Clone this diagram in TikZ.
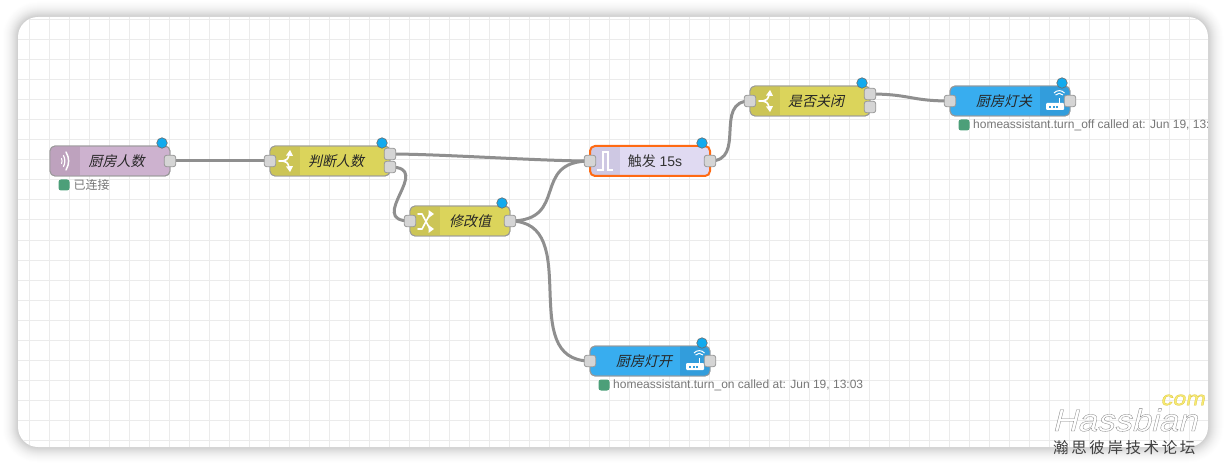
\documentclass[tikz,border=0pt]{standalone}
\usepackage{fontspec}
\setmainfont{Liberation Sans}
\newfontfamily\cjk{Noto Sans CJK SC}
\newfontfamily\cjkit[FakeSlant=0.22]{Noto Sans CJK SC}
\newfontfamily\markfont[FakeSlant=0.25,FakeStretch=1.12,FakeBold=1.0]{Liberation Sans}
\newfontfamily\markfontb[FakeSlant=0.2,FakeStretch=1.2,FakeBold=1.2]{Liberation Sans}
\usetikzlibrary{calc}
\definecolor{gridline}{HTML}{EBEBEB}
\definecolor{wirecol}{HTML}{8F8F8F}
\definecolor{portfill}{HTML}{D5D5D5}
\definecolor{edgecol}{HTML}{999999}
\definecolor{dotblue}{HTML}{11AAEE}
\definecolor{statusgreen}{HTML}{4C9F79}
\definecolor{statustext}{HTML}{777777}
\definecolor{injectbody}{HTML}{CDB2CF}
\definecolor{injecticon}{HTML}{BEA2BE}
\definecolor{switchbody}{HTML}{DBD45B}
\definecolor{switchicon}{HTML}{CCC556}
\definecolor{triggerbody}{HTML}{E0DAF2}
\definecolor{triggericon}{HTML}{CEC8E3}
\definecolor{servicebody}{HTML}{38ADEF}
\definecolor{serviceicon}{HTML}{329DDC}
\definecolor{selectcol}{HTML}{FF6A13}
\tikzset{
  gridrule/.style={draw=gridline,line width=1pt},
  wire/.style={draw=wirecol,line width=3pt},
  port/.style={draw=edgecol,fill=portfill,line width=.8pt,rectangle,rounded corners=2.5pt,
    minimum width=11.5pt,minimum height=11.5pt,inner sep=0pt,outer sep=0pt},
  changed/.style={circle,draw=edgecol!70!black,fill=dotblue,line width=.6pt,
    minimum size=10.5pt,inner sep=0pt},
  statusdot/.style={rectangle,rounded corners=2.5pt,fill=statusgreen,
    minimum width=11pt,minimum height=11pt,inner sep=0pt},
  statuslabel/.style={anchor=west,inner sep=0pt,text=statustext,font=\fontsize{12}{12}\selectfont},
  nodetitle/.style={inner sep=0pt,text=black!85,font=\cjkit\fontsize{14}{14}\selectfont},
  icon/.style={draw=white,line width=1.6pt,line cap=round,line join=round},
  bodybox/.style={rectangle,rounded corners=5pt,draw=edgecol,line width=.9pt,inner sep=0pt,
    outer sep=0pt,minimum height=30pt,anchor=north west},
}
% name, x, y, width, body colour, icon colour, icon-strip left edge
\newcommand\flowbox[7]{%
  \node[bodybox,fill=#5,minimum width=#4pt] (#1) at (#2,#3) {};
  \begin{scope}
    \clip[rounded corners=5pt] (#2,#3) rectangle ++(#4,30);
    \fill[#6] (#7,#3) rectangle ++(30,30);
  \end{scope}
  \node[bodybox,draw=edgecol,fill=none,minimum width=#4pt] at (#2,#3) {};
}
% switch glyph relative to its node's top-left corner
\newcommand\switchglyph[2]{%
  \begin{scope}[shift={(#1,#2)}]
    \draw[icon] (9,15) -- (13,15) .. controls (16,15) and (18,13) .. (19,9);
    \draw[icon] (13,15) .. controls (16,15) and (18,17) .. (19,21);
    \fill[white] (20,4) -- (23,10) -- (16,9.5) -- cycle;
    \fill[white] (20,26) -- (23,20) -- (16,20.5) -- cycle;
  \end{scope}}
% router glyph, relative to the icon strip's left edge
\newcommand\routerglyph[2]{%
  \begin{scope}[shift={(#1,#2)}]
    \fill[white,rounded corners=1pt] (6,17) rectangle (24,24);
    \draw[white,line width=1.2pt] (19.5,17) -- (19.5,12);
    \draw[white,line width=1pt] (15.5,9) .. controls (17.5,6.8) and (21,6.8) .. (23,9);
    \draw[white,line width=1pt] (14,7) .. controls (17,3.8) and (21.5,3.8) .. (24.5,7);
    \foreach \d in {9,12.5,16}{\fill[serviceicon] (\d,19.6) rectangle ++(2,2);}
  \end{scope}}
\begin{document}
\begin{tikzpicture}[x=1pt,y=-1pt]
\useasboundingbox (0,0) rectangle (1226,465);
\fill[white] (0,0) rectangle (1226,465);

% soft shadow around the editor workspace
\foreach \i/\t in {15/.5,14/1,13/1.6,12/2.3,11/3.1,10/4,9/5,8/6.2,7/7.5,6/9,5/10.5,4/12,3/14,2/16,1/18,0/20}{
  \fill[black!\t!white,rounded corners=20pt+\i pt]
    ($(18,17)+(-\i,-\i)$) rectangle ($(1208,447)+(\i,\i)$);
}
\fill[white,rounded corners=20pt] (18,17) rectangle (1208,447);

\begin{scope}
  \clip[rounded corners=20pt] (18,17) rectangle (1208,447);
  % workspace grid
  \foreach \k in {0,...,58}{\draw[gridrule] (29.5+20*\k,17) -- (29.5+20*\k,447);}
  \foreach \k in {0,...,21}{\draw[gridrule] (18,20+20*\k) -- (1208,20+20*\k);}

  % port positions, used as wire ends
  \coordinate (injOut) at (170,161);
  \coordinate (swaIn) at (270,161);
  \coordinate (swaOutA) at (390,154);
  \coordinate (swaOutB) at (390,167);
  \coordinate (chgIn) at (410,221);
  \coordinate (chgOut) at (510,221);
  \coordinate (trgIn) at (590,161);
  \coordinate (trgOut) at (710,161);
  \coordinate (swbIn) at (750,101);
  \coordinate (swbOutA) at (870,94);
  \coordinate (swbOutB) at (870,107);
  \coordinate (offIn) at (950,101);
  \coordinate (offOut) at (1070,101);
  \coordinate (onIn) at (590,361);
  \coordinate (onOut) at (710,361);

  % wires
  \draw[wire] (injOut) -- (swaIn);
  \draw[wire] (swaOutA) .. controls +(50,0) and +(-50,0) .. (trgIn);
  \draw[wire] (swaOutB) .. controls +(45,0) and +(-45,0) .. (chgIn);
  \draw[wire] (chgOut) .. controls +(60,0) and +(-60,0) .. (trgIn);
  \draw[wire] (chgOut) .. controls +(75,0) and +(-75,0) .. (onIn);
  \draw[wire] (trgOut) .. controls +(37,0) and +(-37,0) .. (swbIn);
  \draw[wire] (swbOutA) .. controls +(40,0) and +(-40,0) .. (offIn);

  % function nodes
  \flowbox{inject}{50}{146}{120}{injectbody}{injecticon}{50}
  \flowbox{switchA}{270}{146}{120}{switchbody}{switchicon}{270}
  \flowbox{change}{410}{206}{100}{switchbody}{switchicon}{410}
  \flowbox{switchB}{750}{86}{120}{switchbody}{switchicon}{750}
  \flowbox{serviceOff}{950}{86}{120}{servicebody}{serviceicon}{1040}
  \flowbox{serviceOn}{590}{346}{120}{servicebody}{serviceicon}{680}
  \node[bodybox,fill=triggerbody,draw=none,minimum width=120pt] (trigger) at (590,146) {};
  \begin{scope}
    \clip[rounded corners=5pt] (590,146) rectangle ++(120,30);
    \fill[triggericon] (590,146) rectangle ++(30,30);
  \end{scope}
  \node[bodybox,draw=selectcol,line width=2pt,fill=none,minimum width=120pt] at (590,146) {};

  % node glyphs
  \draw[white,line width=1pt,line cap=round] (61.5,158.5) .. controls (62.3,160) and (62.3,162) .. (61.5,163.5);
  \draw[white,line width=1.2pt,line cap=round] (63.5,155.5) .. controls (65.3,159) and (65.3,163) .. (63.5,166.5);
  \draw[white,line width=1.5pt,line cap=round] (66,152) .. controls (69.5,158) and (69.5,164) .. (66,170);
  \switchglyph{270}{146}
  \switchglyph{750}{86}
  \begin{scope}[shift={(410,206)}]
    \draw[icon] (8,8) -- (12,8) -- (20,23);
    \draw[icon] (8,23) -- (12,23) -- (20,8);
    \fill[white] (24,8) -- (18.5,4) -- (18.5,12) -- cycle;
    \fill[white] (24,23) -- (18.5,19) -- (18.5,27) -- cycle;
  \end{scope}
  \draw[white,line width=2pt,line join=miter] (597,170) -- (602.5,170) -- (602.5,152) -- (607.5,152) -- (607.5,170) -- (613,170);
  \routerglyph{1040}{86}
  \routerglyph{680}{346}

  % node titles
  \node[nodetitle] at (116.5,161) {厨房人数};
  \node[nodetitle] at (336,161) {判断人数};
  \node[nodetitle] at (470,221) {修改值};
  \node[inner sep=0pt,text=black!80,font=\fontsize{14}{14}\selectfont] at (655,161) {{\cjk\fontsize{14}{14}\selectfont 触发} 15s};
  \node[nodetitle] at (816,101) {是否关闭};
  \node[nodetitle] at (1004,101) {厨房灯关};
  \node[nodetitle] at (644,361) {厨房灯开};

  % ports
  \node[port] (pInjOut) at (injOut) {};
  \node[port] (pSwaIn) at (swaIn) {};
  \node[port] (pSwaOutA) at (swaOutA) {};
  \node[port] (pSwaOutB) at (swaOutB) {};
  \node[port] (pChgIn) at (chgIn) {};
  \node[port] (pChgOut) at (chgOut) {};
  \node[port] (pTrgIn) at (trgIn) {};
  \node[port] (pTrgOut) at (trgOut) {};
  \node[port] (pSwbIn) at (swbIn) {};
  \node[port] (pSwbOutA) at (swbOutA) {};
  \node[port] (pSwbOutB) at (swbOutB) {};
  \node[port] (pOffIn) at (offIn) {};
  \node[port] (pOffOut) at (offOut) {};
  \node[port] (pOnIn) at (onIn) {};
  \node[port] (pOnOut) at (onOut) {};

  % undeployed-change markers
  \node[changed] (dInject) at (162,143) {};
  \node[changed] (dSwitchA) at (382,143) {};
  \node[changed] (dChange) at (502,203) {};
  \node[changed] (dTrigger) at (702,143) {};
  \node[changed] (dSwitchB) at (862,83) {};
  \node[changed] (dOff) at (1062,83) {};
  \node[changed] (dOn) at (702,343) {};

  % status lines
  \node[statusdot] (sInject) at (64,185) {};
  \node[statuslabel,font=\cjk\fontsize{12}{12}\selectfont] (tInject) at (73.5,185) {已连接};
  \node[statusdot] (sOff) at (964,125) {};
  \begin{scope}
    \clip (960,115) rectangle (1207,135);
    \node[statuslabel] (tOff) at (973,125) {homeassistant.turn\_off called at: Jun 19, 13:03};
  \end{scope}
  \node[statusdot] (sOn) at (604,385) {};
  \node[statuslabel] (tOn) at (613,385) {homeassistant.turn\_on called at: Jun 19, 13:03};
\end{scope}

% forum mark in the lower right corner: pale letters with a thin stroke
\node[inner sep=0pt,anchor=east,font=\markfontb\fontsize{19.5}{20}\selectfont] (markCom) at (1205,400)
  {\special{pdf:code q 0.97 0.92 0.45 rg 0.85 0.75 0.2 RG}com\special{pdf:code Q}};
\node[inner sep=0pt,anchor=west,font=\markfont\fontsize{31}{31}\selectfont] (markName) at (1052,420)
  {\special{pdf:code q 1 g 0.5 G}Hassbian\special{pdf:code Q}};
\node[inner sep=0pt,anchor=west,text=black!75,font=\cjk\fontsize{15.5}{16}\selectfont] (markCn) at (1053,448)
  {瀚\kern2.6pt 思\kern2.6pt 彼\kern2.6pt 岸\kern2.6pt 技\kern2.6pt 术\kern2.6pt 论\kern2.6pt 坛};
\end{tikzpicture}
\end{document}
